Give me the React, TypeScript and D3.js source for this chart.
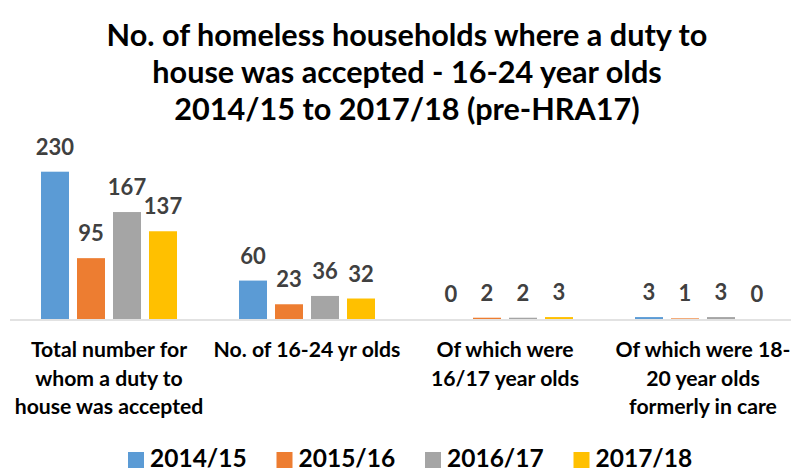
import React from "react";
import * as d3 from "d3";

const titleLines = [
  "No. of homeless households where a duty to",
  "house was accepted - 16-24 year olds",
  "2014/15 to 2017/18 (pre-HRA17)",
];
const categories = ["total", "age1624", "age1617", "care"];
const categoryLabels = [
  ["Total number for", "whom a duty to", "house was accepted"],
  ["No. of 16-24 yr olds"],
  ["Of which were", "16/17 year olds"],
  ["Of which were 18-", "20 year olds", "formerly in care"],
];
const seriesNames = ["2014/15", "2015/16", "2016/17", "2017/18"];
const seriesColors = ["#5B9BD5", "#ED7D31", "#A5A5A5", "#FFC000"];
const values2014 = [230, 60, 0, 3];
const values2015 = [95, 23, 2, 1];
const values2016 = [167, 36, 2, 3];
const values2017 = [137, 32, 3, 0];
const seriesValues = [values2014, values2015, values2016, values2017];

const W = 791;
const H = 472;
const FONT = "Lato, 'Open Sans', sans-serif";

export default function App() {
  const x0 = d3.scaleBand<string>().domain(categories).range([10, 802]).padding(0);
  const x1 = d3
    .scaleBand<string>()
    .domain(seriesNames)
    .range([0, x0.bandwidth()])
    .paddingInner(8 / 36)
    .paddingOuter(0.861);
  const y = d3.scaleLinear().domain([0, 230]).range([319, 171.7]);

  const legendX = d3.scaleBand<string>().domain(seriesNames).range([128, 128 + 148.5 * 4]);

  return (
    <svg
      width={W}
      height={H}
      style={{ position: "absolute", left: 0, top: 0, background: "#fff" }}
      fontFamily={FONT}
    >
      <rect x={0} y={0} width={W} height={H} fill="#fff" />
      {titleLines.map((t, i) => (
        <text
          key={i}
          x={407}
          y={46 + i * 37}
          textAnchor="middle"
          fontSize={30.6}
          fontWeight="bold"
          fill="#000"
        >
          {t}
        </text>
      ))}
      {categories.map((c, ci) => (
        <g key={c} transform={`translate(${x0(c)},0)`}>
          {seriesNames.map((s, si) => {
            const v = seriesValues[si][ci];
            const bx = x1(s)!;
            return (
              <g key={s}>
                <rect
                  x={bx}
                  y={y(v)}
                  width={x1.bandwidth()}
                  height={y(0) - y(v)}
                  fill={seriesColors[si]}
                />
                <text
                  x={bx + x1.bandwidth() / 2}
                  y={y(v) - 17}
                  textAnchor="middle"
                  fontSize={22}
                  fontWeight="bold"
                  fill="#404040"
                >
                  {v}
                </text>
              </g>
            );
          })}
        </g>
      ))}
      <line x1={10} x2={802} y1={320} y2={320} stroke="#D9D9D9" strokeWidth={1.5} />
      {categories.map((c, ci) => (
        <text
          key={c}
          x={x0(c)! + x0.bandwidth() / 2}
          textAnchor="middle"
          fontSize={21.2}
          fontWeight="bold"
          fill="#000"
        >
          {categoryLabels[ci].map((l, li) => (
            <tspan key={li} x={x0(c)! + x0.bandwidth() / 2} y={357 + li * 28.5}>
              {l}
            </tspan>
          ))}
        </text>
      ))}
      {seriesNames.map((s, si) => (
        <g key={s} transform={`translate(${legendX(s)},0)`}>
          <rect x={0} y={452} width={16} height={16} fill={seriesColors[si]} />
          <text x={22} y={467} fontSize={24.5} fontWeight="bold" fill="#000">
            {s}
          </text>
        </g>
      ))}
    </svg>
  );
}
